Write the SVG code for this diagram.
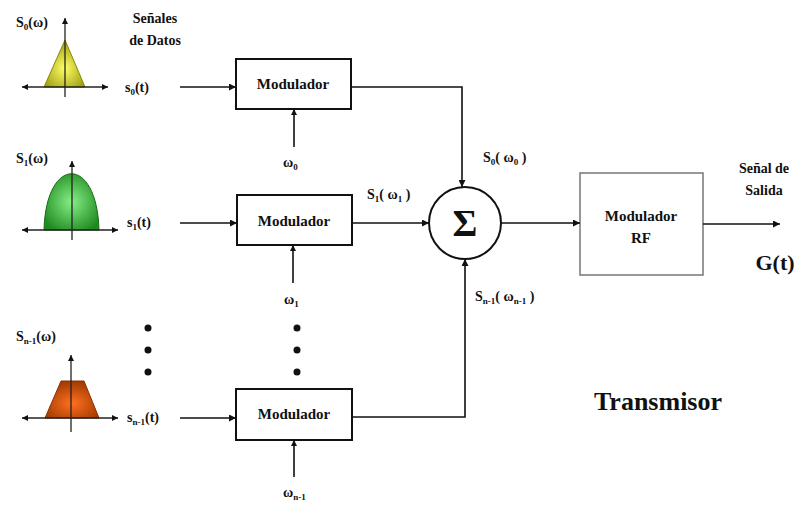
<svg xmlns="http://www.w3.org/2000/svg" width="803" height="506" viewBox="0 0 803 506" font-family="'Liberation Serif', 'DejaVu Serif', serif">
<style>
text{font-weight:bold;fill:#111}
.lbl{font-size:14px}
.md{font-size:15px}
.sm{font-size:9px}
.box{fill:#fff;stroke:#111;stroke-width:2}
.rf{fill:#fff;stroke:#777;stroke-width:1.5}
.ln{fill:none;stroke:#111;stroke-width:1.6}
.ax{fill:none;stroke:#222;stroke-width:1.3}
.dot{fill:#111}
</style>
<defs>
<marker id="ah" viewBox="0 0 10 10" refX="10" refY="5" markerWidth="7" markerHeight="7" orient="auto-start-reverse" markerUnits="userSpaceOnUse">
<path d="M0,0L10,5L0,10z" fill="#111"/>
</marker>
<marker id="as" viewBox="0 0 10 10" refX="10" refY="5" markerWidth="6" markerHeight="6" orient="auto-start-reverse" markerUnits="userSpaceOnUse">
<path d="M0,0L10,5L0,10z" fill="#111"/>
</marker>
<radialGradient id="gy" cx="0.5" cy="0.6" r="0.6"><stop offset="0" stop-color="#ffff66"/><stop offset="1" stop-color="#9a9a10"/></radialGradient>
<radialGradient id="gg" cx="0.5" cy="0.5" r="0.6"><stop offset="0" stop-color="#88ee88"/><stop offset="1" stop-color="#1e8a1e"/></radialGradient>
<radialGradient id="go" cx="0.5" cy="0.6" r="0.6"><stop offset="0" stop-color="#ff7020"/><stop offset="1" stop-color="#a03a00"/></radialGradient>
</defs>

<g id="spec0">
<polygon points="44,87 65,40 85,87" fill="url(#gy)" stroke="#8a8a00" stroke-width="1"/>
<line class="ax" x1="22" y1="87" x2="108" y2="87" marker-start="url(#as)" marker-end="url(#as)"/>
<line class="ax" x1="65" y1="97" x2="65" y2="18" marker-end="url(#as)"/>
<text class="lbl" x="16" y="27">S<tspan class="sm" dy="3">0</tspan><tspan dy="-3">(ω)</tspan></text>
</g>
<g id="title-senales">
<text class="lbl" x="155" y="23" text-anchor="middle">Señales</text>
<text class="lbl" x="155" y="45" text-anchor="middle">de Datos</text>
</g>
<g id="spec1">
<path d="M44,230 C46,155 97,155 99,230 Z" fill="url(#gg)" stroke="#1a6a1a" stroke-width="1"/>
<line class="ax" x1="22" y1="230" x2="118" y2="230" marker-start="url(#as)" marker-end="url(#as)"/>
<line class="ax" x1="72" y1="240" x2="72" y2="161" marker-end="url(#as)"/>
<text class="lbl" x="16" y="163">S<tspan class="sm" dy="3">1</tspan><tspan dy="-3">(ω)</tspan></text>
</g>
<g id="spec2">
<polygon points="45,418 61,381 84,381 99,418" fill="url(#go)" stroke="#8a3000" stroke-width="1"/>
<line class="ax" x1="22" y1="418" x2="118" y2="418" marker-start="url(#as)" marker-end="url(#as)"/>
<line class="ax" x1="71" y1="432" x2="71" y2="355" marker-end="url(#as)"/>
<text class="lbl" x="16" y="341">S<tspan class="sm" dy="3">n-1</tspan><tspan dy="-3">(ω)</tspan></text>
</g>
<g id="dots-left">
<circle class="dot" cx="148" cy="328" r="3.5"/>
<circle class="dot" cx="148" cy="350" r="3.5"/>
<circle class="dot" cx="148" cy="372" r="3.5"/>
</g>

<g id="mod0">
<rect class="box" x="236" y="59" width="115" height="50"/>
<text class="md" x="293" y="89" text-anchor="middle">Modulador</text>
</g>
<g id="mod1">
<rect class="box" x="237" y="195" width="115" height="50"/>
<text class="md" x="294" y="226" text-anchor="middle">Modulador</text>
</g>
<g id="mod2">
<rect class="box" x="236" y="389" width="116" height="51"/>
<text class="md" x="294" y="419" text-anchor="middle">Modulador</text>
</g>
<g id="sum">
<circle cx="465" cy="223" r="36" fill="#fff" stroke="#111" stroke-width="2"/>
<text x="465" y="236" text-anchor="middle" font-size="38">Σ</text>
</g>
<g id="modrf">
<rect class="rf" x="580" y="173" width="123" height="102"/>
<text class="md" x="641" y="221" text-anchor="middle">Modulador</text>
<text class="md" x="641" y="243" text-anchor="middle">RF</text>
</g>
<g id="dots-mid">
<circle class="dot" cx="297" cy="328" r="3.5"/>
<circle class="dot" cx="297" cy="350" r="3.5"/>
<circle class="dot" cx="297" cy="372" r="3.5"/>
</g>

<g id="connectors">
<line class="ln" x1="180" y1="87" x2="236" y2="87" marker-end="url(#ah)"/>
<line class="ln" x1="180" y1="223" x2="237" y2="223" marker-end="url(#ah)"/>
<line class="ln" x1="180" y1="418" x2="236" y2="418" marker-end="url(#ah)"/>
<line class="ln" x1="294" y1="147" x2="294" y2="109" marker-end="url(#as)"/>
<line class="ln" x1="293" y1="283" x2="293" y2="245" marker-end="url(#as)"/>
<line class="ln" x1="294" y1="477" x2="294" y2="440" marker-end="url(#as)"/>
<polyline class="ln" points="351,87 462,87 462,187" marker-end="url(#ah)"/>
<line class="ln" x1="352" y1="223" x2="429" y2="223" marker-end="url(#ah)"/>
<polyline class="ln" points="352,417 465,417 465,259" marker-end="url(#ah)"/>
<line class="ln" x1="501" y1="223" x2="580" y2="223" marker-end="url(#ah)"/>
<line class="ln" x1="703" y1="224" x2="780" y2="224" marker-end="url(#ah)"/>
</g>

<g id="labels">
<text class="lbl" x="125" y="92">s<tspan class="sm" dy="3">0</tspan><tspan dy="-3">(t)</tspan></text>
<text class="lbl" x="127" y="227">s<tspan class="sm" dy="3">1</tspan><tspan dy="-3">(t)</tspan></text>
<text class="lbl" x="127" y="422">s<tspan class="sm" dy="3">n-1</tspan><tspan dy="-3">(t)</tspan></text>
<text class="lbl" x="283" y="167">ω<tspan class="sm" dy="3">0</tspan></text>
<text class="lbl" x="284" y="304">ω<tspan class="sm" dy="3">1</tspan></text>
<text class="lbl" x="283" y="497">ω<tspan class="sm" dy="3">n-1</tspan></text>
<text class="lbl" x="483" y="162">S<tspan class="sm" dy="3">0</tspan><tspan dy="-3">( ω</tspan><tspan class="sm" dy="3">0</tspan><tspan dy="-3"> )</tspan></text>
<text class="lbl" x="367" y="199">S<tspan class="sm" dy="3">1</tspan><tspan dy="-3">( ω</tspan><tspan class="sm" dy="3">1</tspan><tspan dy="-3"> )</tspan></text>
<text class="lbl" x="475" y="301">S<tspan class="sm" dy="3">n-1</tspan><tspan dy="-3">( ω</tspan><tspan class="sm" dy="3">n-1</tspan><tspan dy="-3"> )</tspan></text>
<text class="lbl" x="764" y="173" text-anchor="middle">Señal de</text>
<text class="lbl" x="764" y="195" text-anchor="middle">Salida</text>
<text x="775" y="270" text-anchor="middle" font-size="22">G(t)</text>
<text x="658" y="410" text-anchor="middle" font-size="26">Transmisor</text>
</g>
</svg>
